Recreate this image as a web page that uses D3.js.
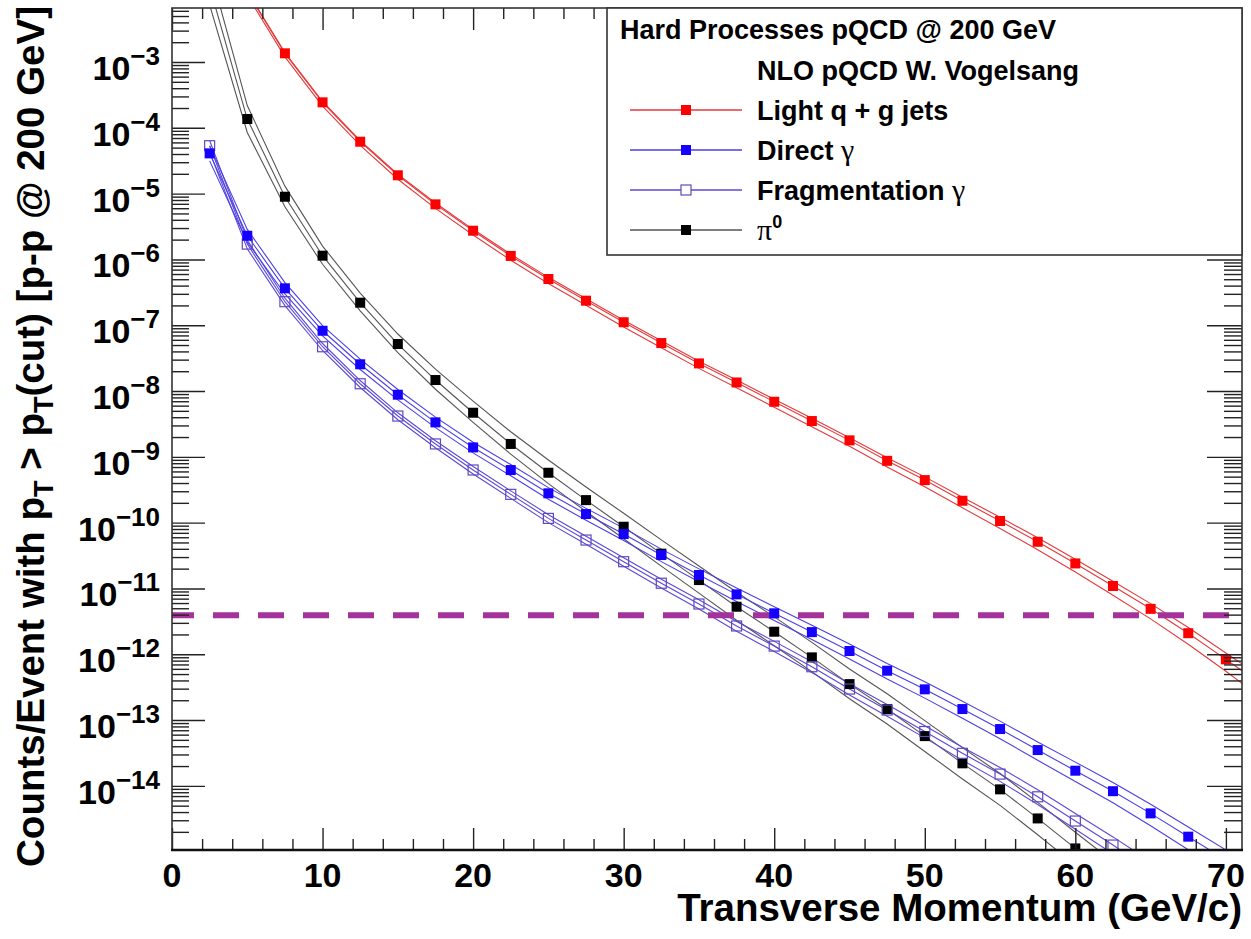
<!DOCTYPE html>
<html>
<head>
<meta charset="utf-8">
<script src="https://cdn.jsdelivr.net/npm/d3@7"></script>
<style>
  body { margin: 0; background: #fff; }
  text { font-family: "Liberation Sans", Arial, Helvetica, sans-serif; font-weight: bold; }
  .greek { font-family: "Liberation Serif", "DejaVu Serif", serif; font-weight: normal; }
</style>
</head>
<body>
<svg id="chart"></svg>
<script>
var W = 1251;
var H = 939;

// pT bin centres (GeV/c)
var ptBins = [2.5, 5, 7.5, 10, 12.5, 15, 17.5, 20, 22.5, 25, 27.5, 30, 32.5, 35, 37.5,
  40, 42.5, 45, 47.5, 50, 52.5, 55, 57.5, 60, 62.5, 65, 67.5, 70, 72.5];

// light q + g jets: central value, upper / lower band factors
var jets = [null, 1.15e-2, 1.355e-3, 2.44e-4, 6.15e-5, 1.9e-5, 6.87e-6, 2.73e-6, 1.13e-6,
  5.04e-7, 2.36e-7, 1.11e-7, 5.36e-8, 2.63e-8, 1.35e-8, 6.87e-9, 3.5e-9, 1.78e-9, 8.7e-10,
  4.43e-10, 2.15e-10, 1.06e-10, 5.12e-11, 2.4e-11, 1.09e-11, 4.9e-12, 2.09e-12, 8.37e-13, 3.3e-13];
var jetsUp = [null, 1.03, 1.03, 1.03, 1.04, 1.04, 1.05, 1.05, 1.06, 1.06, 1.07, 1.07, 1.08, 1.08,
  1.09, 1.09, 1.1, 1.1, 1.11, 1.12, 1.13, 1.14, 1.15, 1.16, 1.18, 1.2, 1.22, 1.25, 1.3];
var jetsDown = [null, 1.12, 1.13, 1.14, 1.14, 1.15, 1.15, 1.16, 1.16, 1.17, 1.17, 1.18, 1.18, 1.19,
  1.2, 1.21, 1.22, 1.23, 1.24, 1.26, 1.28, 1.3, 1.32, 1.35, 1.38, 1.42, 1.47, 1.52, 1.6];

// direct photons
var direct = [4.09e-5, 2.29e-6, 3.64e-7, 8.24e-8, 2.55e-8, 8.79e-9, 3.34e-9, 1.39e-9, 6.3e-10,
  2.79e-10, 1.35e-10, 6.71e-11, 3.22e-11, 1.6e-11, 8.13e-12, 4.19e-12, 2.17e-12, 1.12e-12,
  5.62e-13, 2.93e-13, 1.47e-13, 7.3e-14, 3.5e-14, 1.7e-14, 8.3e-15, 3.82e-15, 1.69e-15, 7.5e-16, null];
var directUp = [1.3, 1.25, 1.22, 1.2, 1.2, 1.2, 1.2, 1.2, 1.21, 1.22, 1.22, 1.23, 1.23, 1.24, 1.25,
  1.26, 1.27, 1.28, 1.29, 1.3, 1.31, 1.32, 1.33, 1.35, 1.36, 1.38, 1.4, 1.42, null];
var directDown = [1.3, 1.25, 1.22, 1.2, 1.2, 1.2, 1.2, 1.21, 1.22, 1.23, 1.24, 1.25, 1.26, 1.27, 1.28,
  1.29, 1.3, 1.32, 1.34, 1.36, 1.38, 1.4, 1.43, 1.46, 1.5, 1.54, 1.58, 1.62, null];

// fragmentation photons
var frag = [5.35e-5, 1.71e-6, 2.28e-7, 4.71e-8, 1.29e-8, 4.17e-9, 1.57e-9, 6.31e-10, 2.69e-10,
  1.16e-10, 5.44e-11, 2.55e-11, 1.2e-11, 5.8e-12, 2.69e-12, 1.33e-12, 6.46e-13, 2.96e-13,
  1.42e-13, 6.7e-14, 3.12e-14, 1.51e-14, 6.82e-15, 2.92e-15, 1.26e-15, 5.2e-16, null, null, null];
var fragUp = [1.2, 1.15, 1.13, 1.12, 1.12, 1.12, 1.12, 1.13, 1.13, 1.14, 1.14, 1.15, 1.15, 1.16,
  1.17, 1.18, 1.19, 1.2, 1.21, 1.22, 1.24, 1.26, 1.28, 1.3, 1.33, 1.36, null, null, null];
var fragDown = [1.25, 1.18, 1.15, 1.14, 1.14, 1.14, 1.14, 1.15, 1.15, 1.16, 1.16, 1.17, 1.18, 1.19,
  1.2, 1.21, 1.22, 1.23, 1.24, 1.25, 1.27, 1.29, 1.31, 1.33, 1.36, 1.4, null, null, null];

// pi0
var pi0 = [1.4e-2, 1.36e-4, 8.97e-6, 1.14e-6, 2.2e-7, 5.18e-8, 1.47e-8, 4.68e-9, 1.57e-9,
  5.73e-10, 2.2e-10, 8.67e-11, 3.38e-11, 1.34e-11, 5.27e-12, 2.2e-12, 8.97e-13, 3.52e-13,
  1.47e-13, 5.7e-14, 2.2e-14, 8.85e-15, 3.2e-15, 1.12e-15, 4.0e-16, null, null, null, null];
var pi0Up = [1.9, 1.6, 1.45, 1.4, 1.4, 1.42, 1.46, 1.5, 1.53, 1.56, 1.58, 1.6, 1.62, 1.64, 1.66,
  1.68, 1.69, 1.7, 1.71, 1.72, 1.73, 1.74, 1.75, 1.76, 1.77, null, null, null, null];
var pi0Down = [1.9, 1.6, 1.42, 1.35, 1.33, 1.35, 1.38, 1.4, 1.43, 1.46, 1.49, 1.52, 1.55, 1.58, 1.6,
  1.63, 1.65, 1.67, 1.69, 1.71, 1.73, 1.75, 1.77, 1.79, 1.8, null, null, null, null];

var cutLevel = 3.9e-12;
var xTicks = [0, 10, 20, 30, 40, 50, 60, 70];
var yExponents = [-3, -4, -5, -6, -7, -8, -9, -10, -11, -12, -13, -14];

var legendTitle = "Hard Processes pQCD @ 200 GeV";
var legendSub = "NLO pQCD W. Vogelsang";

var padL = 172, padR = 1242, padT = 8, padB = 850;

var svg = d3.select("#chart").attr("width", W).attr("height", H);

var x = d3.scaleLinear().domain([0, 71.07]).range([padL, padR]);
var y = d3.scaleLog().domain([1.06e-15, 6.62e-3]).range([padB, padT]);

// tick values on the log axis
var majors = yExponents.map((e) => Math.pow(10, e));
var minors = [];
for (var e = -15; e <= -3; e++) {
  for (var k = 2; k <= 9; k++) {
    var v = k * Math.pow(10, e);
    if (v > y.domain()[0] && v < y.domain()[1]) minors.push(v);
  }
}
var xMinor = d3.range(0, 72, 2).filter((d) => d % 10 !== 0);

svg.append("defs").append("clipPath").attr("id", "plot")
  .append("rect").attr("x", padL).attr("y", padT)
  .attr("width", padR - padL).attr("height", padB - padT);

var series = [
  { name: "jets", v: jets, up: jetsUp, dn: jetsDown, line: "#e4393b", fill: "#ff0000", open: false },
  { name: "pi0", v: pi0, up: pi0Up, dn: pi0Down, line: "#555555", fill: "#000000", open: false },
  { name: "frag", v: frag, up: fragUp, dn: fragDown, line: "#5a48d8", fill: "#6248c0", open: true },
  { name: "direct", v: direct, up: directUp, dn: directDown, line: "#4a3ee6", fill: "#1500ff", open: false }
];

var line = d3.line().x((d) => x(d[0])).y((d) => y(d[1]));
var plot = svg.append("g").attr("clip-path", "url(#plot)");

series.forEach((s) => {
  var mid = [], hi = [], lo = [];
  ptBins.forEach((p, i) => {
    if (s.v[i] == null) return;
    mid.push([p, s.v[i]]);
    if (s.up[i] != null) {
      hi.push([p, s.v[i] * s.up[i]]);
      lo.push([p, s.v[i] / s.dn[i]]);
    }
  });
  [hi, mid, lo].forEach((pts) => {
    plot.append("path").datum(pts)
      .attr("d", line)
      .attr("fill", "none")
      .attr("stroke", s.line)
      .attr("stroke-width", 1.1);
  });
  s.mid = mid;
});

// cut level
plot.append("line")
  .attr("x1", padL).attr("x2", padR)
  .attr("y1", y(cutLevel)).attr("y2", y(cutLevel))
  .attr("stroke", "#a3339b")
  .attr("stroke-width", 6)
  .attr("stroke-dasharray", "26,19")
  .attr("stroke-dashoffset", 4);

series.forEach((s) => {
  plot.selectAll(null)
    .data(s.mid)
    .enter()
    .append("rect")
    .attr("x", (d) => x(d[0]) - 5)
    .attr("y", (d) => y(d[1]) - 5)
    .attr("width", 10)
    .attr("height", 10)
    .attr("fill", s.open ? "none" : s.fill)
    .attr("stroke", s.open ? s.fill : "none")
    .attr("stroke-width", 1.2);
});

// axes: ticks pointing inwards on all four sides
function tickAxis(axis, tr) {
  var g = svg.append("g").attr("transform", tr).call(axis);
  g.select(".domain").remove();
  g.selectAll("line").attr("stroke", "#222").attr("stroke-width", 1.4);
  g.selectAll("text").remove();
}
tickAxis(d3.axisRight(y).tickValues(majors).tickSize(33), "translate(" + padL + ",0)");
tickAxis(d3.axisRight(y).tickValues(minors).tickSize(17), "translate(" + padL + ",0)");
tickAxis(d3.axisLeft(y).tickValues(majors).tickSize(35), "translate(" + padR + ",0)");
tickAxis(d3.axisLeft(y).tickValues(minors).tickSize(18), "translate(" + padR + ",0)");
tickAxis(d3.axisTop(x).tickValues(xTicks).tickSize(22), "translate(0," + padB + ")");
tickAxis(d3.axisTop(x).tickValues(xMinor).tickSize(11), "translate(0," + padB + ")");
tickAxis(d3.axisBottom(x).tickValues(xTicks).tickSize(22), "translate(0," + padT + ")");
tickAxis(d3.axisBottom(x).tickValues(xMinor).tickSize(11), "translate(0," + padT + ")");

// frame
svg.append("rect")
  .attr("x", padL).attr("y", padT)
  .attr("width", padR - padL).attr("height", padB - padT)
  .attr("fill", "none").attr("stroke", "#333").attr("stroke-width", 1.6);
svg.append("line").attr("x1", padL - 1).attr("x2", padR + 1)
  .attr("y1", padB).attr("y2", padB)
  .attr("stroke", "#111").attr("stroke-width", 2.4);

// y tick labels 10^n
yExponents.forEach((e) => {
  var t = svg.append("text")
    .attr("x", 160)
    .attr("y", y(Math.pow(10, e)) + 18)
    .attr("text-anchor", "end")
    .attr("font-size", 34);
  t.append("tspan").text("10");
  t.append("tspan").attr("dy", -15).attr("font-size", 26).text("\u2212" + Math.abs(e));
});

// x tick labels
svg.selectAll(".xlab")
  .data(xTicks)
  .enter()
  .append("text")
  .attr("x", (d) => x(d))
  .attr("y", 887)
  .attr("text-anchor", "middle")
  .attr("font-size", 34)
  .text((d) => d);

// axis titles
svg.append("text")
  .attr("x", padR)
  .attr("y", 921)
  .attr("text-anchor", "end")
  .attr("font-size", 38.5)
  .text("Transverse Momentum (GeV/c)");

var yt = svg.append("text")
  .attr("transform", "translate(44,6) rotate(-90)")
  .attr("text-anchor", "end")
  .attr("font-size", 38.5);
yt.append("tspan").text("Counts/Event with p");
yt.append("tspan").attr("font-size", 27).attr("dy", 9).text("T");
yt.append("tspan").attr("dy", -9).text(" > p");
yt.append("tspan").attr("font-size", 27).attr("dy", 9).text("T");
yt.append("tspan").attr("dy", -9).text("(cut) [p-p @ 200 GeV]");

// legend
var lg = svg.append("g");
lg.append("rect")
  .attr("x", 607).attr("y", padT)
  .attr("width", padR - 607).attr("height", 255 - padT)
  .attr("fill", "#fff").attr("stroke", "#333").attr("stroke-width", 1.6);
lg.append("text").attr("x", 620).attr("y", 39).attr("font-size", 27).text(legendTitle);
lg.append("text").attr("x", 757).attr("y", 80).attr("font-size", 27).text(legendSub);

var entries = [
  { s: series[0], label: "Light q + g jets", greek: "", rowY: 120 },
  { s: series[3], label: "Direct ", greek: "\u03b3", rowY: 160 },
  { s: series[2], label: "Fragmentation ", greek: "\u03b3", rowY: 200 },
  { s: series[1], label: "", greek: "\u03c0", rowY: 240 }
];
entries.forEach((en) => {
  var cy = en.rowY - 10;
  lg.append("line").attr("x1", 630).attr("x2", 742).attr("y1", cy).attr("y2", cy)
    .attr("stroke", en.s.line).attr("stroke-width", 1.3);
  lg.append("rect").attr("x", 681).attr("y", cy - 5).attr("width", 10).attr("height", 10)
    .attr("fill", en.s.open ? "#fff" : en.s.fill)
    .attr("stroke", en.s.open ? en.s.fill : "none").attr("stroke-width", 1.2);
  var t = lg.append("text").attr("x", 757).attr("y", en.rowY).attr("font-size", 27);
  if (en.label) t.append("tspan").text(en.label);
  t.append("tspan").attr("class", "greek").attr("font-size", 30).text(en.greek);
  if (!en.label) t.append("tspan").attr("dy", -12).attr("font-size", 18).text("0");
});
</script>
</body>
</html>
